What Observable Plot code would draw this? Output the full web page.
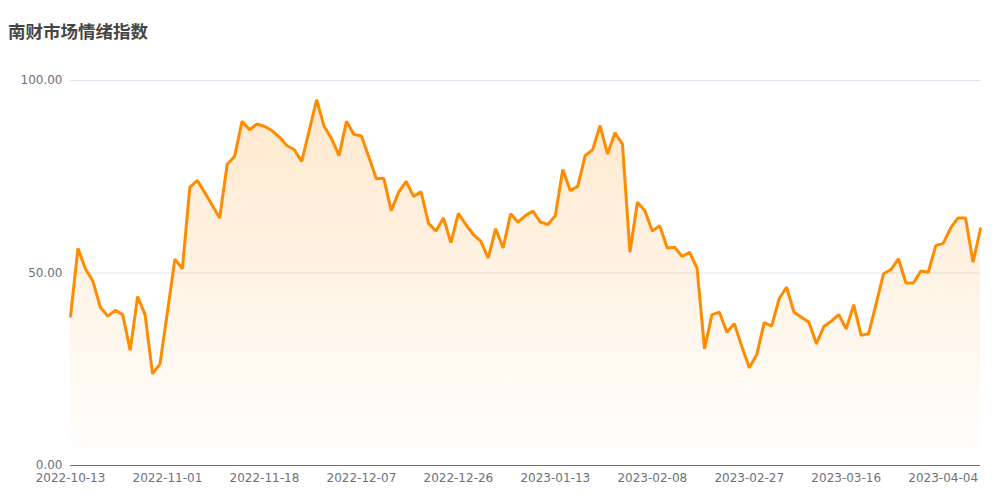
<!DOCTYPE html>
<html><head><meta charset="utf-8">
<script src="https://cdn.jsdelivr.net/npm/d3@7"></script>
<script src="https://cdn.jsdelivr.net/npm/@observablehq/plot@0.6"></script>
<style>
body{margin:0;background:#fff;font-family:"DejaVu Sans","Noto Sans CJK SC",sans-serif}
#title{height:55px;box-sizing:border-box;padding:20px 0 0 8px;font-size:17.5px;font-weight:bold;color:#464646;font-family:"Noto Sans CJK SC",sans-serif;line-height:22px}
</style></head><body>
<div id="title">南财市场情绪指数</div>
<div id="chart"></div>
<script>
const dates = [
"2022-10-13","2022-10-14","2022-10-17","2022-10-18","2022-10-19","2022-10-20","2022-10-21","2022-10-24","2022-10-25","2022-10-26","2022-10-27","2022-10-28","2022-10-31",
"2022-11-01","2022-11-02","2022-11-03","2022-11-04","2022-11-07","2022-11-08","2022-11-09","2022-11-10","2022-11-11","2022-11-14","2022-11-15","2022-11-16","2022-11-17","2022-11-18","2022-11-21","2022-11-22","2022-11-23","2022-11-24","2022-11-25","2022-11-28","2022-11-29","2022-11-30",
"2022-12-01","2022-12-02","2022-12-05","2022-12-06","2022-12-07","2022-12-08","2022-12-09","2022-12-12","2022-12-13","2022-12-14","2022-12-15","2022-12-16","2022-12-19","2022-12-20","2022-12-21","2022-12-22","2022-12-23","2022-12-26","2022-12-27","2022-12-28","2022-12-29","2022-12-30",
"2023-01-03","2023-01-04","2023-01-05","2023-01-06","2023-01-09","2023-01-10","2023-01-11","2023-01-12","2023-01-13","2023-01-16","2023-01-17","2023-01-18","2023-01-19","2023-01-20","2023-01-30","2023-01-31",
"2023-02-01","2023-02-02","2023-02-03","2023-02-06","2023-02-07","2023-02-08","2023-02-09","2023-02-10","2023-02-13","2023-02-14","2023-02-15","2023-02-16","2023-02-17","2023-02-20","2023-02-21","2023-02-22","2023-02-23","2023-02-24","2023-02-27","2023-02-28",
"2023-03-01","2023-03-02","2023-03-03","2023-03-06","2023-03-07","2023-03-08","2023-03-09","2023-03-10","2023-03-13","2023-03-14","2023-03-15","2023-03-16","2023-03-17","2023-03-20","2023-03-21","2023-03-22","2023-03-23","2023-03-24","2023-03-27","2023-03-28","2023-03-29","2023-03-30","2023-03-31",
"2023-04-03","2023-04-04","2023-04-06","2023-04-07","2023-04-10","2023-04-11","2023-04-12"
];
const values = [
38.8,56.4,51.1,47.9,41.1,38.8,40.3,39.2,29.9,43.9,39.2,23.8,26.4,
40.0,53.6,51.1,72.3,74.0,70.9,67.6,64.3,78.2,80.3,89.4,87.2,88.7,88.1,87.0,85.3,83.1,82.0,79.0,87.0,95.0,88.1,
84.9,80.5,89.4,86.0,85.6,80.1,74.5,74.6,66.2,71.0,73.8,69.9,71.1,62.9,60.9,64.3,57.9,65.5,62.6,60.0,58.3,53.9,
61.5,56.5,65.4,63.2,64.9,66.1,63.2,62.6,64.9,76.9,71.4,72.5,80.5,82.0,88.3,80.9,
86.4,83.5,55.4,68.4,66.2,60.9,62.3,56.5,56.7,54.3,55.4,51.3,30.3,39.2,39.8,34.6,36.8,30.9,25.4,28.8,
37.1,36.2,43.3,46.3,39.8,38.5,37.2,31.6,36.1,37.5,39.2,35.5,41.8,33.8,34.2,42.0,49.8,50.9,53.7,47.4,47.4,50.5,50.2,
57.1,57.7,61.7,64.3,64.3,52.8,61.5
];
const yTicks = [0, 50, 100];
const xTickDates = ["2022-10-13","2022-11-01","2022-11-18","2022-12-07","2022-12-26","2023-01-13","2023-02-08","2023-02-27","2023-03-16","2023-04-04"];

const data = dates.map((d, i) => ({i, date: d, v: values[i]}));
const xTicks = xTickDates.map(d => dates.indexOf(d));

const chart = Plot.plot({
  width: 1000,
  height: 445,
  marginTop: 25,
  marginBottom: 35,
  marginLeft: 70,
  marginRight: 20,
  style: {fontFamily: '"DejaVu Sans", sans-serif', fontSize: "12px", color: "#6e7079", background: "#fff"},
  x: {type: "linear", domain: [0, dates.length - 1], ticks: xTicks, tickFormat: i => dates[i], tickSize: 0, tickPadding: 8, label: null},
  y: {domain: [0, 100], ticks: yTicks, tickFormat: d => d.toFixed(2), tickSize: 0, tickPadding: 8, label: null},
  marks: [
    Plot.ruleY([50, 100], {stroke: "#e0e6f1", strokeWidth: 1}),
    Plot.areaY(data, {x: "i", y: "v", fill: "url(#sentGrad)"}),
    Plot.ruleY([0], {stroke: "#6e7079", strokeWidth: 1}),
    Plot.lineY(data, {x: "i", y: "v", stroke: "#ff8c00", strokeWidth: 3, strokeLinejoin: "bevel"})
  ]
});

const svg = d3.select(chart);
const defs = svg.insert("defs", ":first-child");
const g = defs.append("linearGradient").attr("id", "sentGrad").attr("x1", 0).attr("y1", 0).attr("x2", 0).attr("y2", 1);
g.append("stop").attr("offset", "0%").attr("stop-color", "#ff8c00").attr("stop-opacity", 0.2);
g.append("stop").attr("offset", "100%").attr("stop-color", "#ff8c00").attr("stop-opacity", 0.0);

document.getElementById("chart").appendChild(chart);
</script>
</body></html>
